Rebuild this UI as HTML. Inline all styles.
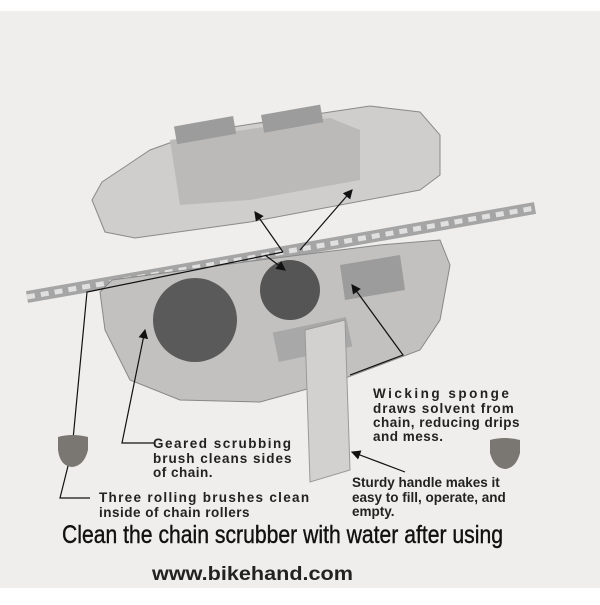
<!DOCTYPE html>
<html><head><style>
body{margin:0;width:600px;height:600px;background:#fff;overflow:hidden;font-family:"Liberation Sans",sans-serif}
</style></head><body>
<svg width="600" height="600" viewBox="0 0 600 600" xmlns="http://www.w3.org/2000/svg">
<defs><marker id="a" markerWidth="8" markerHeight="8" refX="7" refY="4" orient="auto"><path d="M0,0 L8,4 L0,8 z" fill="#111"/></marker></defs>
<rect x="0" y="11" width="600" height="577" fill="#efeeec"/>
<!-- lid -->
<polygon points="92,200 102,182 150,150 200,132 330,112 370,106 420,112 440,135 440,175 420,190 250,222 135,238 105,232" fill="#cfcecd" stroke="#8a8a8a"/>
<polygon points="170,140 330,118 360,130 360,180 250,200 180,205" fill="#bbbab9"/>
<rect x="175" y="122" width="60" height="18" fill="#9c9c9c" transform="rotate(-10 200 130)"/>
<rect x="262" y="110" width="60" height="18" fill="#9c9c9c" transform="rotate(-10 290 118)"/>
<!-- chain -->
<line x1="27" y1="297" x2="535" y2="208" stroke="#a5a5a5" stroke-width="12"/>
<line x1="27" y1="297" x2="535" y2="208" stroke="#e0e0e0" stroke-width="5" stroke-dasharray="8 6"/>
<!-- body -->
<polygon points="100,292 112,280 260,260 380,245 440,240 450,265 440,320 420,350 340,380 260,402 180,400 130,380 105,330" fill="#c2c1c0" stroke="#888"/>
<circle cx="195" cy="320" r="42" fill="#5a5a5a"/>
<circle cx="290" cy="290" r="30" fill="#555"/>
<polygon points="340,265 400,255 405,290 345,300" fill="#9c9c9c"/>
<rect x="275" y="325" width="75" height="30" fill="#a8a8a8" transform="rotate(-12 310 340)"/>
<polygon points="305,330 345,320 350,470 310,482" fill="#d2d1d0" stroke="#999"/>
<!-- leader lines -->
<g stroke="#111" stroke-width="1.2" fill="none">
<polyline points="90,498 60,498 72,450 87,292 283,252"/>
<polyline points="155,443 122,443 145,330" marker-end="url(#a)"/>
<line x1="283" y1="252" x2="255" y2="212" marker-end="url(#a)"/>
<line x1="300" y1="250" x2="352" y2="190" marker-end="url(#a)"/>
<line x1="265" y1="255" x2="285" y2="270" marker-end="url(#a)"/>
<polyline points="350,375 403,355 352,285" marker-end="url(#a)"/>
<line x1="405" y1="472" x2="352" y2="452" marker-end="url(#a)"/>
</g>
<path d="M58,437 Q72,433 88,437 L88,450 Q84,466 72,467 Q60,466 58,450 z" fill="#7a7672"/>
<path d="M490,440 Q505,436 520,440 L520,453 Q516,468 505,469 Q494,468 490,453 z" fill="#7a7672"/>
<g font-weight="bold" font-size="13.5" fill="#222" letter-spacing="0.5">
<text x="373" y="398" letter-spacing="2.5">Wicking  sponge</text>
<text x="373" y="413" letter-spacing="1">draws solvent from</text>
<text x="373" y="427">chain, reducing drips</text>
<text x="373" y="441">and mess.</text>
<text x="153" y="448" letter-spacing="1.5">Geared scrubbing</text>
<text x="153" y="463" letter-spacing="1">brush cleans sides</text>
<text x="153" y="477">of chain.</text>
<text x="99" y="502" letter-spacing="1.3">Three rolling brushes clean</text>
<text x="99" y="517">inside of chain rollers</text>
</g>
<g font-size="13.5" fill="#222" font-weight="bold">
<text x="352" y="487">Sturdy handle makes it</text>
<text x="352" y="502">easy to fill, operate, and</text>
<text x="352" y="516">empty.</text>
</g>
<text x="62" y="543" font-size="25" fill="#111" stroke="#111" stroke-width="0.4" textLength="441" lengthAdjust="spacingAndGlyphs">Clean the chain scrubber with water after using</text>
<text x="152" y="580" font-size="19" font-weight="bold" fill="#222" textLength="201" lengthAdjust="spacingAndGlyphs">www.bikehand.com</text>
</svg>
</body></html>
